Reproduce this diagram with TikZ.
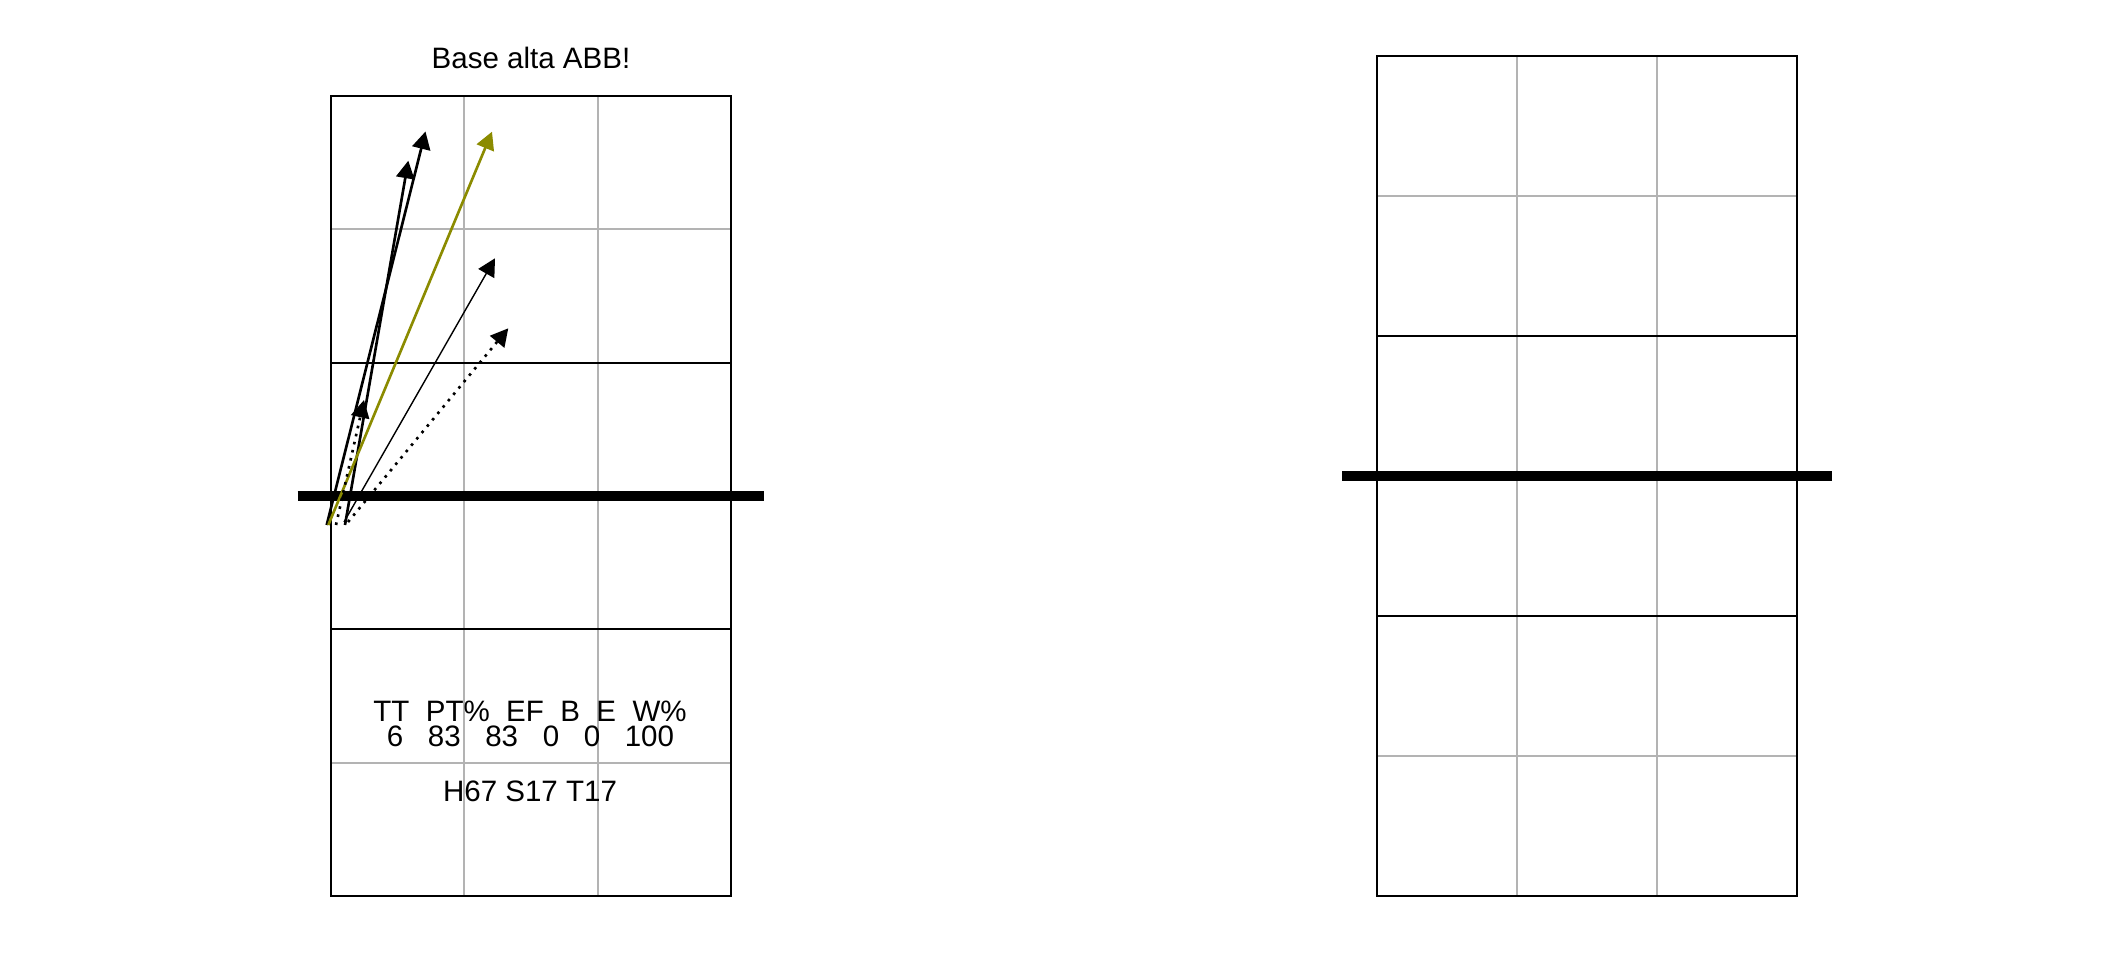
\documentclass[tikz,border=0pt]{standalone}
\usepackage{fontspec}
\setmainfont{Liberation Sans}
\usetikzlibrary{arrows.meta}
\definecolor{serveline}{RGB}{139,139,0}
\definecolor{gridgray}{RGB}{179,179,179}
\begin{document}
\begin{tikzpicture}[>={Triangle[length=5pt,width=5.2pt]},line width=0.75pt,
	font=\fontsize{8.4}{10}\selectfont]
\useasboundingbox (0,0) rectangle (21.12,9.6);
\foreach \cx/\cs in {3.31/1.3333,13.77/1.4}{
\begin{scope}[shift={(\cx,0.64)},scale=\cs]
\draw[color=gridgray,line width=0.6pt] (1,0) -- (1,6);
\draw[color=gridgray,line width=0.6pt] (2,0) -- (2,6);
\draw[color=gridgray,line width=0.6pt] (0,1) -- (3,1);
\draw[color=gridgray,line width=0.6pt] (0,5) -- (3,5);
\draw[line width=0.6pt] (0,2) -- (3,2);
\draw[line width=0.6pt] (0,4) -- (3,4);
\draw (0,0) rectangle (3,6);
\draw[line width=3pt] (-0.25,3) -- (3.25,3);
\end{scope}
}
\draw[->] (3.267,4.35) -- (4.255,8.285);
\draw[->] (3.45,4.35) -- (4.083,7.993);
\draw[->,color=serveline] (3.283,4.35) -- (4.92,8.283);
\draw[->,line width=0.4pt] (3.44,4.38) -- (4.95,7.017);
\draw[->,dash pattern=on 0.75pt off 1.6pt] (3.48,4.38) -- (5.083,6.317);
\draw[->,dash pattern=on 0.75pt off 1.6pt] (3.36,4.35) -- (3.64,5.6);
\node (title) at (5.31,8.917) [anchor=base] {Base alta ABB!};
\node (stathead) at (5.30,2.383) [anchor=base] {TT~~PT\%~~EF~~B~~E~~W\%};
\node (statval) at (5.305,2.133) [anchor=base] {6~~~83~~~83~~~0~~~0~~~100};
\node (zones) at (5.30,1.583) [anchor=base] {H67 S17 T17};
\end{tikzpicture}
\end{document}
